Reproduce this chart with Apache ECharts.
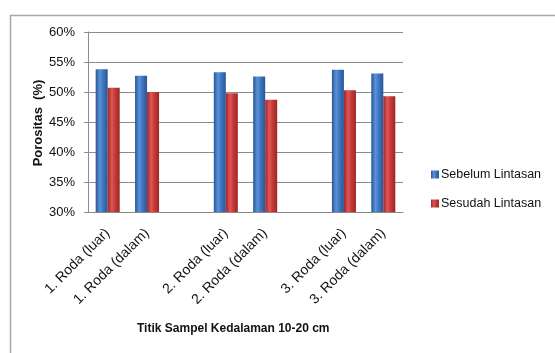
<!DOCTYPE html>
<html>
<head>
<meta charset="utf-8">
<script src="https://cdn.jsdelivr.net/npm/echarts@6/dist/echarts.min.js"></script>
<style>
  html, body { margin: 0; padding: 0; background: #fff; }
  #chart { width: 555px; height: 353px; }
</style>
</head>
<body>
<div id="chart"></div>
<script>
// Sample points (blank entries separate the three wheel groups)
const categories = ['1. Roda (luar)', '1. Roda (dalam)', '', '2. Roda (luar)', '2. Roda (dalam)', '', '3. Roda (luar)', '3. Roda (dalam)'];
// Porosity in percent, before and after the track pass
const sebelum = [53.8, 52.7, null, 53.3, 52.6, null, 53.7, 53.1];
const sesudah = [50.7, 50.0, null, 49.8, 48.7, null, 50.3, 49.3];
const yTicks = { min: 30, max: 60, interval: 5 };

const font = 'Liberation Sans, Arial, sans-serif';

function barGradient(edge, mid, light) {
  return new echarts.graphic.LinearGradient(0, 0, 1, 0, [
    { offset: 0, color: edge },
    { offset: 0.35, color: light },
    { offset: 0.6, color: mid },
    { offset: 1, color: edge }
  ]);
}

const chart = echarts.init(document.getElementById('chart'), null, { renderer: 'canvas' });

chart.setOption({
  backgroundColor: '#ffffff',
  animation: false,
  graphic: [
    {
      type: 'rect',
      shape: { x: 10.5, y: 15.5, width: 560, height: 360 },
      style: { fill: 'none', stroke: '#a6a6a6', lineWidth: 1.5 },
      silent: true
    },
    {
      // vertical axis title
      type: 'text',
      x: 38,
      y: 123,
      rotation: Math.PI / 2,
      style: {
        text: 'Porositas  (%)',
        fontFamily: font,
        fontSize: 13,
        fontWeight: 'bold',
        fill: '#111',
        align: 'center',
        verticalAlign: 'middle'
      },
      silent: true
    }
  ],
  title: {
    text: 'Titik Sampel Kedalaman 10-20 cm',
    left: 132,
    top: 318,
    textStyle: { fontFamily: font, fontSize: 12, fontWeight: 'bold', color: '#111' }
  },
  legend: {
    orient: 'vertical',
    left: 426,
    top: 163,
    itemWidth: 8,
    itemHeight: 8,
    itemGap: 16,
    icon: 'rect',
    textStyle: { fontFamily: font, fontSize: 12.5, color: '#111', padding: [0, 0, 0, -3] },
    data: ['Sebelum Lintasan', 'Sesudah Lintasan']
  },
  grid: { left: 88, right: 152, top: 32, bottom: 141, containLabel: false },
  xAxis: {
    type: 'category',
    data: categories,
    axisLine: { show: true, lineStyle: { color: '#8c8c8c', width: 1 } },
    axisTick: { show: false },
    axisLabel: {
      interval: 0,
      rotate: 45,
      margin: 19,
      fontFamily: font,
      fontSize: 14,
      color: '#111'
    }
  },
  yAxis: {
    type: 'value',
    min: yTicks.min,
    max: yTicks.max,
    interval: yTicks.interval,
    axisLine: { show: true, lineStyle: { color: '#8c8c8c', width: 1 } },
    axisTick: { show: true, length: 4, lineStyle: { color: '#8c8c8c' } },
    splitLine: { show: true, lineStyle: { color: '#8c8c8c', width: 1 } },
    axisLabel: {
      margin: 13,
      fontFamily: font,
      fontSize: 13,
      color: '#111',
      formatter: v => v + '%'
    }
  },
  series: [
    {
      name: 'Sebelum Lintasan',
      type: 'bar',
      data: sebelum,
      barGap: '0%',
      barCategoryGap: '39%',
      itemStyle: { color: barGradient('#2a5596', '#3f78c2', '#5a93d8') }
    },
    {
      name: 'Sesudah Lintasan',
      type: 'bar',
      data: sesudah,
      itemStyle: { color: barGradient('#9e2626', '#c83a3a', '#de5656') }
    }
  ]
});
</script>
</body>
</html>
